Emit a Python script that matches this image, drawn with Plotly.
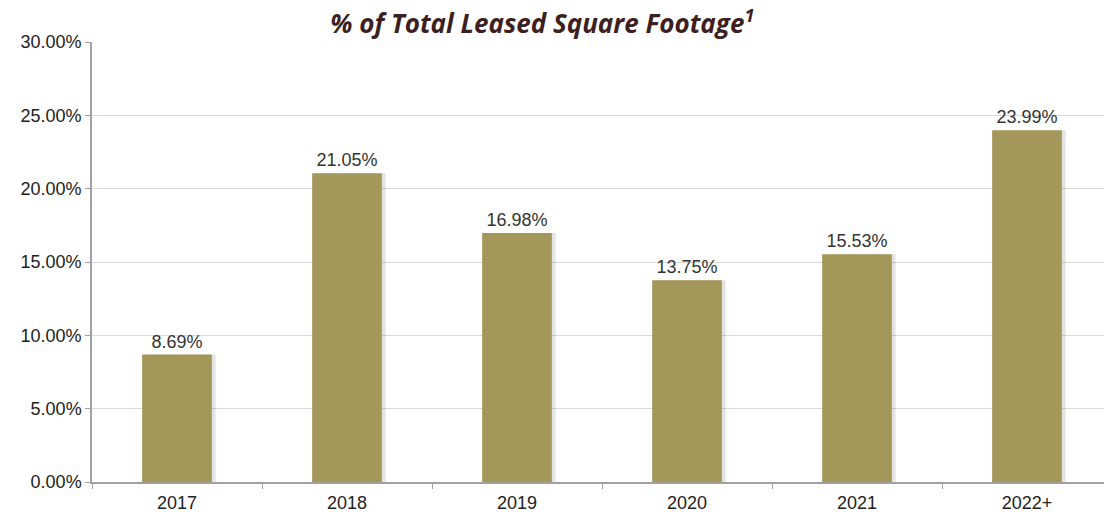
import plotly.graph_objects as go

categories = ["2017", "2018", "2019", "2020", "2021", "2022+"]
values = [8.69, 21.05, 16.98, 13.75, 15.53, 23.99]
tick_vals = [0, 5, 10, 15, 20, 25, 30]
tick_text = ["0.00%", "5.00%", "10.00%", "15.00%", "20.00%", "25.00%", "30.00%"]

BAR_W = 0.41
LABEL_FONT = "Liberation Sans, Arial, sans-serif"

fig = go.Figure()
# soft shadow behind bars
fig.add_trace(go.Bar(
    x=categories, y=values,
    marker=dict(color="rgba(0,0,0,0.11)", line=dict(width=0)),
    width=BAR_W, offset=-BAR_W / 2 + 0.022,
    hoverinfo="skip",
))
fig.add_trace(go.Bar(
    x=categories, y=values,
    marker=dict(color="#A4975A", line=dict(width=0)),
    width=BAR_W, offset=-BAR_W / 2,
    text=[f"{v:.2f}%" for v in values],
    textposition="outside",
    textfont=dict(family=LABEL_FONT, size=18, color="#333333"),
    cliponaxis=False,
))

fig.update_layout(
    width=1104, height=509,
    margin=dict(l=84, r=0, t=34, b=35),
    paper_bgcolor="white", plot_bgcolor="white",
    showlegend=False,
    barmode="overlay",
    title=dict(
        text="<b><i>% of Total Leased Square Footage<sup>1</sup></i></b>",
        x=0.484, xanchor="center", y=0.968, yanchor="middle",
        font=dict(family="Open Sans, sans-serif", size=26, color="#3d1f22"),
    ),
)
fig.update_xaxes(
    showline=True, linecolor="#a0a0a0", linewidth=1.5,
    ticks="outside", ticklen=5, tickcolor="#a0a0a0",
    tickson="boundaries",
    ticklabelstandoff=4,
    tickfont=dict(family=LABEL_FONT, size=18, color="#222222"),
    showgrid=False, automargin=False,
)
fig.update_yaxes(
    range=[0, 30], tickvals=tick_vals, ticktext=tick_text,
    showline=True, linecolor="#a0a0a0", linewidth=1.5,
    ticks="outside", ticklen=5, tickcolor="#a0a0a0",
    showgrid=True, gridcolor="#d9d9d9", gridwidth=1.2,
    tickfont=dict(family=LABEL_FONT, size=18, color="#222222"),
    zeroline=False, automargin=False,
)

fig.write_html("out.html")
